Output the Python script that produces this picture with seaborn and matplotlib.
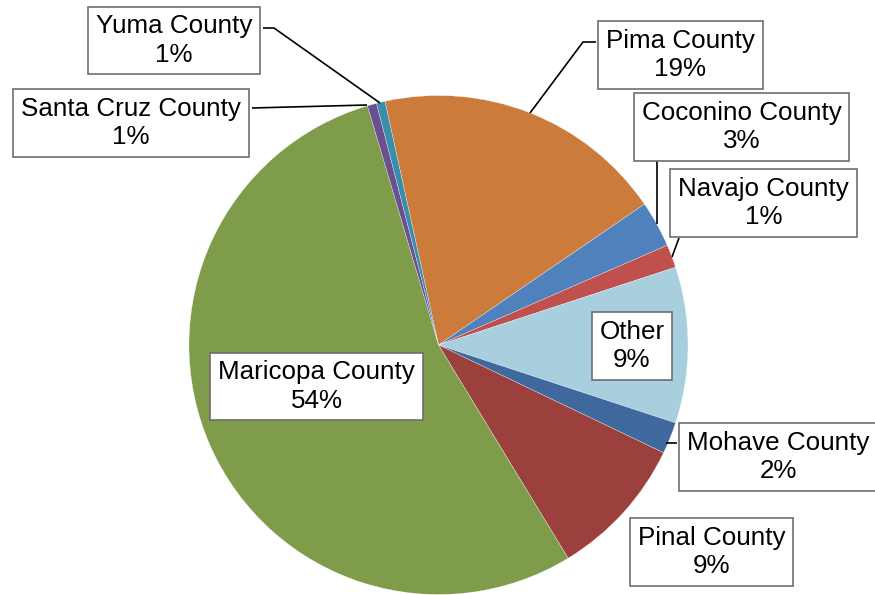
import numpy as np
import matplotlib
matplotlib.use("Agg")
import matplotlib.pyplot as plt
import seaborn as sns

# slices, clockwise from the first one (Pima sits just left of 12 o'clock)
counties = ['Pima County', 'Coconino County', 'Navajo County', 'Other',
            'Mohave County', 'Pinal County', 'Maricopa County',
            'Santa Cruz County', 'Yuma County']
shares = [18.9, 3.0, 1.5, 10.1, 2.05, 9.2, 54.1, 0.6, 0.55]
pct_labels = ['19%', '3%', '1%', '9%', '2%', '9%', '54%', '1%', '1%']
colors = ['#CD7B3A', '#4F81BD', '#C0504D', '#A8CFDD', '#3F699D',
          '#9C403E', '#7F9C4A', '#6A5090', '#3A8DAB']

sns.set_theme(style='white')
plt.rcParams['font.family'] = ['Liberation Sans', 'DejaVu Sans']

W, H = 875, 595
CX, CY, R = 438.5, 345.0, 249.5


def to_xy(px, py):
    # picture pixel -> data units of the pie (radius 1)
    return (px - CX) / R, (CY - py) / R


# label box centres in picture pixels
label_pos = {
    'Pima County': (680.5, 55),
    'Coconino County': (741.5, 127),
    'Navajo County': (763.5, 203),
    'Other': (632, 346),
    'Mohave County': (778, 457),
    'Pinal County': (711.5, 552),
    'Maricopa County': (316.5, 386.5),
    'Santa Cruz County': (131, 123),
    'Yuma County': (174, 40.5),
}
# leader lines in picture pixels
leaders = [
    [(263, 28), (274, 28), (380, 103)],
    [(252, 108), (367, 105)],
    [(596, 42), (583, 42), (530, 113)],
    [(657, 160), (657, 224)],
    [(679, 238), (672, 257)],
    [(677, 443), (666, 443)],
]

fig = plt.figure(figsize=(W / 100, H / 100), dpi=100)
ax = fig.add_axes([0, 0, 1, 1])

ax.pie(shares, colors=colors, startangle=90 + 12.4, counterclock=False,
       radius=1.0, wedgeprops=dict(edgecolor='white', linewidth=0.2))

for pts in leaders:
    xy = np.array([to_xy(*p) for p in pts])
    ax.plot(xy[:, 0], xy[:, 1], color='black', lw=1.2, zorder=3,
            solid_capstyle='butt')

for name, pct in zip(counties, pct_labels):
    x, y = to_xy(*label_pos[name])
    ax.text(x, y, f'{name}\n{pct}', ha='center', va='center',
            multialignment='center', fontsize=18.7, linespacing=1.22,
            color='black', zorder=4,
            bbox=dict(boxstyle='square,pad=0.3', facecolor='white',
                      edgecolor='#6E6E6E', linewidth=1.2))

x0, y0 = to_xy(0, H)
x1, y1 = to_xy(W, 0)
ax.set_xlim(x0, x1)
ax.set_ylim(y0, y1)
ax.set_aspect('equal')
ax.axis('off')

fig.savefig('out.png', dpi=100, facecolor='white')
